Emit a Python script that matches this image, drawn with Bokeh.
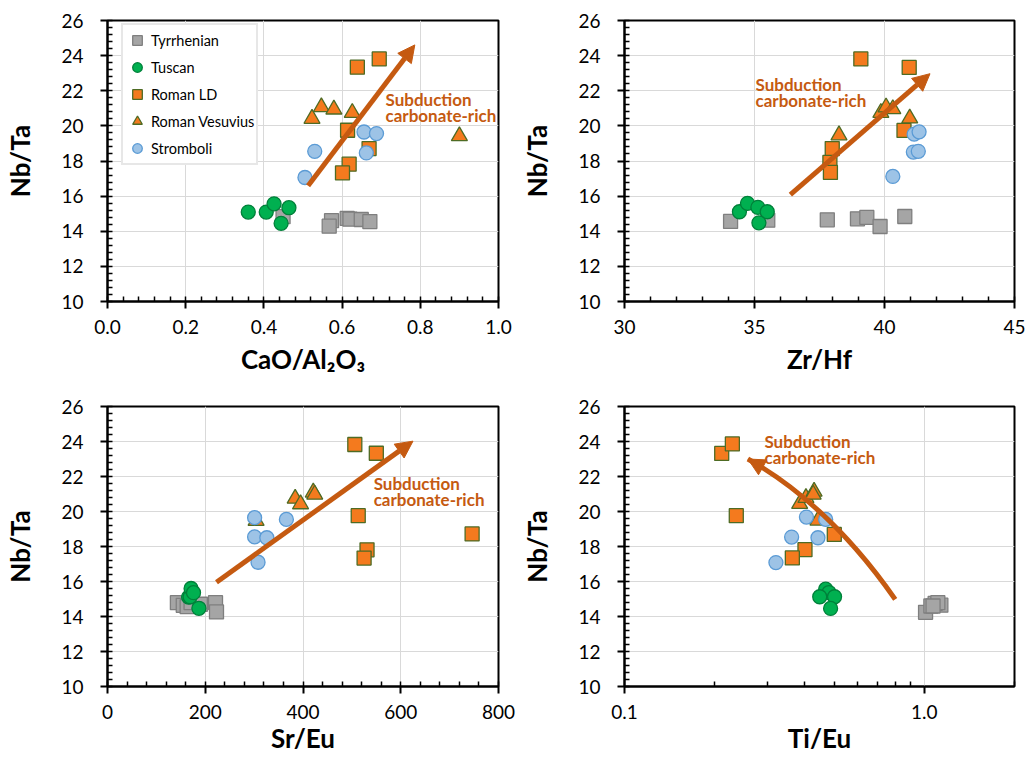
from bokeh.plotting import figure
from bokeh.layouts import column, row
from bokeh.models import (Range1d, SingleIntervalTicker, FixedTicker, PrintfTickFormatter,
                          Arrow, NormalHead)
from bokeh.core.properties import value
from bokeh.embed import file_html
from bokeh.resources import INLINE

# ---------------- data ----------------
series_names = ["Tyrrhenian", "Tuscan", "Roman LD", "Roman Vesuvius", "Stromboli"]

# Panel A: CaO/Al2O3 vs Nb/Ta
a_tyr_x = [0.449, 0.573, 0.567, 0.613, 0.620, 0.649, 0.671]
a_tyr_y = [14.83, 14.60, 14.29, 14.73, 14.69, 14.67, 14.55]
a_tus_x = [0.360, 0.406, 0.426, 0.464, 0.444]
a_tus_y = [15.09, 15.09, 15.56, 15.34, 14.45]
a_rld_x = [0.639, 0.695, 0.614, 0.669, 0.618, 0.601]
a_rld_y = [23.34, 23.81, 19.75, 18.71, 17.82, 17.32]
a_rv_x = [0.523, 0.547, 0.579, 0.626, 0.900]
a_rv_y = [20.41, 21.07, 20.94, 20.75, 19.42]
a_str_x = [0.505, 0.530, 0.656, 0.688, 0.662]
a_str_y = [17.06, 18.55, 19.65, 19.56, 18.46]

# Panel B: Zr/Hf vs Nb/Ta
b_tyr_x = [34.08, 35.51, 37.80, 38.96, 39.32, 39.83, 40.78]
b_tyr_y = [14.56, 14.63, 14.65, 14.71, 14.79, 14.27, 14.84]
b_tus_x = [34.42, 34.73, 35.13, 35.49, 35.17]
b_tus_y = [15.11, 15.59, 15.36, 15.11, 14.48]
b_rld_x = [39.09, 40.95, 40.75, 37.99, 37.90, 37.92]
b_rld_y = [23.81, 23.33, 19.74, 18.71, 17.92, 17.35]
b_rv_x = [38.25, 39.86, 40.06, 40.32, 40.97]
b_rv_y = [19.47, 20.75, 21.06, 20.96, 20.43]
b_str_x = [40.32, 41.14, 41.33, 41.11, 41.30]
b_str_y = [17.12, 19.53, 19.66, 18.51, 18.55]

# Panel C: Sr/Eu vs Nb/Ta
c_tyr_x = [143, 155, 163, 171, 190, 221, 223]
c_tyr_y = [14.79, 14.64, 14.56, 14.79, 14.70, 14.79, 14.26]
c_tus_x = [166, 169, 171, 176, 187]
c_tus_y = [15.11, 15.13, 15.60, 15.36, 14.47]
c_rld_x = [506, 550, 513, 531, 525, 746]
c_rld_y = [23.83, 23.33, 19.76, 17.81, 17.34, 18.72]
c_rv_x = [304, 384, 395, 421, 424]
c_rv_y = [19.47, 20.74, 20.42, 21.09, 20.97]
c_str_x = [301, 366, 301, 326, 308]
c_str_y = [19.65, 19.55, 18.55, 18.50, 17.10]

# Panel D: Ti/Eu (log) vs Nb/Ta
d_tyr_x = [1.010, 1.052, 1.099, 1.136, 1.087, 1.110, 1.070]
d_tyr_y = [14.24, 14.60, 14.71, 14.65, 14.75, 14.79, 14.60]
d_tus_x = [0.469, 0.481, 0.448, 0.502, 0.487]
d_tus_y = [15.56, 15.37, 15.13, 15.13, 14.46]
d_rld_x = [0.211, 0.229, 0.236, 0.501, 0.400, 0.363]
d_rld_y = [23.32, 23.86, 19.76, 18.69, 17.82, 17.35]
d_rv_x = [0.384, 0.403, 0.429, 0.426, 0.442]
d_rv_y = [20.44, 20.78, 21.14, 20.97, 19.49]
d_str_x = [0.4045, 0.469, 0.361, 0.442, 0.320]
d_str_y = [19.68, 19.55, 18.54, 18.50, 17.08]

# trend arrows (start -> end) and annotation anchors
arrow_a = [0.513, 16.59, 0.786, 24.61]
arrow_b = [36.38, 16.09, 41.75, 22.97]
arrow_c = [223, 15.96, 625, 24.02]
curve_d = [0.80, 14.98, 0.482, 20.38, 0.258, 23.0]   # start, control, end
text_lines = ["Subduction", "carbonate-rich"]
text_a = [0.711, 21.5]
text_b = [35.04, 22.34]
text_c = [544.6, 21.6]
text_d = [0.293, 24.0]

y_label = "Nb/Ta"
x_labels = ["CaO/Al\u2082O\u2083", "Zr/Hf", "Sr/Eu", "Ti/Eu"]
log_major = [0.1, 1.0]
log_minor = [0.2, 0.3, 0.4, 0.5, 0.6, 0.7, 0.8, 0.9, 2.0]

# ---------------- styles ----------------
FONT = "Lato"
ARROW_COL = "#C55A11"
styles = {
    "Tyrrhenian": dict(marker="square", size=14, fill_color="#A5A5A5", line_color="#7F7F7F"),
    "Tuscan": dict(marker="circle", size=14, fill_color="#00B050", line_color="#00803A"),
    "Roman LD": dict(marker="square", size=14, fill_color="#F47A1E", line_color="#4E6B24"),
    "Roman Vesuvius": dict(marker="triangle", size=16, fill_color="#F47A1E", line_color="#4E6B24"),
    "Stromboli": dict(marker="circle", size=14, fill_color="#9DC3E6", line_color="#5B9BD5"),
}


def make_fig(width, height, bl, br, bt, bb, x_range, xlab, xlab_standoff, x_log=False):
    p = figure(width=width, height=height, output_backend="svg", toolbar_location=None,
               x_axis_type="log" if x_log else "linear",
               x_range=x_range, y_range=Range1d(10, 26),
               min_border_left=bl, min_border_right=br, min_border_top=bt, min_border_bottom=bb)
    p.background_fill_color = "white"
    p.border_fill_color = "white"
    p.outline_line_color = "black"
    p.outline_line_width = 2
    for ax in (p.xaxis[0], p.yaxis[0]):
        ax.axis_line_width = 2
        ax.axis_line_color = "black"
        ax.major_tick_line_width = 2
        ax.minor_tick_line_width = 1.5
        ax.major_tick_out = 7
        ax.major_tick_in = 0
        ax.minor_tick_out = 0
        ax.minor_tick_in = 5
        ax.major_label_text_font = FONT
        ax.major_label_text_font_size = "19px"
        ax.major_label_text_color = "black"
        ax.axis_label_text_font = FONT
        ax.axis_label_text_font_style = "bold"
        ax.axis_label_text_font_size = "26px"
        ax.axis_label_text_color = "black"
    p.xaxis.major_label_standoff = 11
    p.xaxis.axis_label_standoff = xlab_standoff
    p.yaxis.major_label_standoff = 17
    p.yaxis.axis_label_standoff = 22
    p.xaxis.axis_label = xlab
    p.yaxis.axis_label = y_label
    yt = SingleIntervalTicker(interval=2, num_minor_ticks=5)
    p.yaxis.ticker = yt
    p.ygrid.ticker = yt
    p.xgrid.grid_line_color = "#D9D9D9"
    p.ygrid.grid_line_color = "#D9D9D9"
    p.xgrid.grid_line_width = 1
    p.ygrid.grid_line_width = 1
    return p


def add_series(p, xs_list, ys_list, legend=False):
    for name, xs, ys in zip(series_names, xs_list, ys_list):
        st = styles[name]
        kw = dict(legend_label=name) if legend else {}
        p.scatter(xs, ys, marker=st["marker"], size=st["size"], fill_color=st["fill_color"],
                  line_color=st["line_color"], line_width=1.3, **kw)


def add_arrow(p, a):
    p.add_layout(Arrow(x_start=a[0], y_start=a[1], x_end=a[2], y_end=a[3],
                       line_color=ARROW_COL, line_width=5,
                       end=NormalHead(size=17, fill_color=ARROW_COL, line_color=ARROW_COL)))


def add_text(p, t):
    p.text(x=[t[0], t[0]], y=[t[1], t[1]], text=text_lines, y_offset=[0, 16],
           text_font=value(FONT), text_font_style="bold", text_font_size="17px",
           text_color=ARROW_COL, text_align="left", text_baseline="middle")


FH_T, FH_B = 281, 280
W_L, W_R = 516, 510
H_T = 20 + FH_T + 85      # 386
H_B = 20 + FH_B + 72      # 372

# Panel A
p1 = make_fig(W_L, H_T, 107, 18, 20, 85, Range1d(0, 1), x_labels[0], 6)
xt1 = SingleIntervalTicker(interval=0.2, num_minor_ticks=5)
p1.xaxis.ticker = xt1
p1.xgrid.ticker = xt1
p1.xaxis.formatter = PrintfTickFormatter(format="%.1f")
add_series(p1, [a_tyr_x, a_tus_x, a_rld_x, a_rv_x, a_str_x],
           [a_tyr_y, a_tus_y, a_rld_y, a_rv_y, a_str_y], legend=True)
add_arrow(p1, arrow_a)
add_text(p1, text_a)
lg = p1.legend[0]
lg.location = (14, FH_T - 7 - 138)
lg.margin = 0
lg.padding = 2
lg.spacing = 1
lg.glyph_width = 24
lg.glyph_height = 26
lg.label_height = 26
lg.label_standoff = 2
lg.label_text_font = FONT
lg.label_text_font_size = "14.5px"
lg.label_text_color = "black"
lg.border_line_color = "#D0D0D0"
lg.border_line_width = 2
lg.background_fill_color = "white"
lg.background_fill_alpha = 1

# Panel B
p2 = make_fig(W_R, H_T, 108, 12, 20, 85, Range1d(30, 45), x_labels[1], 6)
xt2 = SingleIntervalTicker(interval=5, num_minor_ticks=5)
p2.xaxis.ticker = xt2
p2.xgrid.ticker = xt2
add_series(p2, [b_tyr_x, b_tus_x, b_rld_x, b_rv_x, b_str_x],
           [b_tyr_y, b_tus_y, b_rld_y, b_rv_y, b_str_y])
add_arrow(p2, arrow_b)
add_text(p2, text_b)

# Panel C
p3 = make_fig(W_L, H_B, 107, 18, 20, 72, Range1d(0, 800), x_labels[2], 0)
xt3 = SingleIntervalTicker(interval=200, num_minor_ticks=5)
p3.xaxis.ticker = xt3
p3.xgrid.ticker = xt3
add_series(p3, [c_tyr_x, c_tus_x, c_rld_x, c_rv_x, c_str_x],
           [c_tyr_y, c_tus_y, c_rld_y, c_rv_y, c_str_y])
add_arrow(p3, arrow_c)
add_text(p3, text_c)

# Panel D (log x)
p4 = make_fig(W_R, H_B, 108, 12, 20, 72, Range1d(0.1, 2.0), x_labels[3], 0, x_log=True)
xt4 = FixedTicker(ticks=log_major, minor_ticks=log_minor)
p4.xaxis.ticker = xt4
p4.xgrid.ticker = xt4
p4.xaxis.formatter = PrintfTickFormatter(format="%.1f")
add_series(p4, [d_tyr_x, d_tus_x, d_rld_x, d_rv_x, d_str_x],
           [d_tyr_y, d_tus_y, d_rld_y, d_rv_y, d_str_y])
p4.quadratic(x0=[curve_d[0]], y0=[curve_d[1]], cx=[curve_d[2]], cy=[curve_d[3]],
             x1=[curve_d[4]], y1=[curve_d[5]], line_color=ARROW_COL, line_width=5)
p4.add_layout(Arrow(x_start=curve_d[2], y_start=curve_d[3], x_end=curve_d[4], y_end=curve_d[5],
                    line_alpha=0, line_width=0,
                    end=NormalHead(size=17, fill_color=ARROW_COL, line_color=ARROW_COL)))
add_text(p4, text_d)

layout = column(row(p1, p2), row(p3, p4))
open("out.html", "w").write(file_html(layout, INLINE))
